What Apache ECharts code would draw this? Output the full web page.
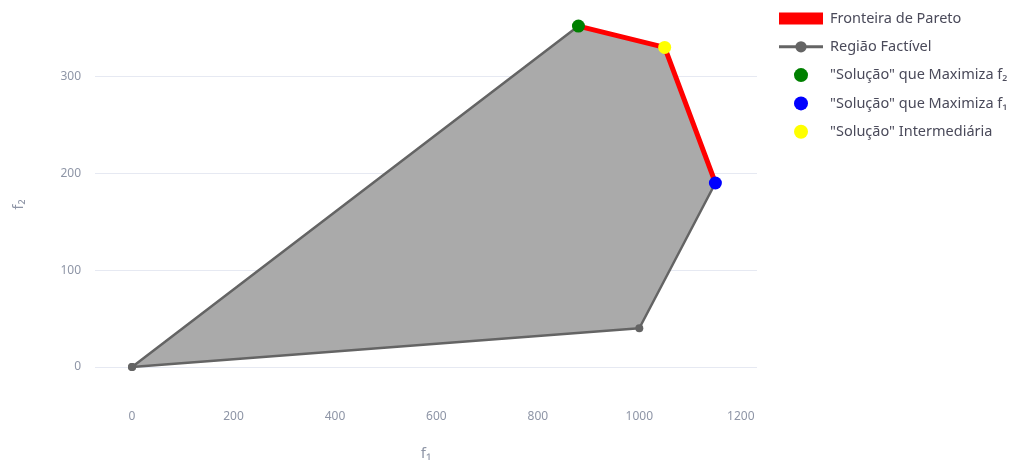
<!DOCTYPE html>
<html><head><meta charset="utf-8">
<script src="https://cdn.jsdelivr.net/npm/echarts@6/dist/echarts.min.js"></script>
<style>html,body{margin:0;padding:0;background:#fff}#c{width:1026px;height:466px}</style>
</head><body><div id="c"></div>
<script>
// Feasible region polygon vertices (closed)
const regionF1 = [0, 1000, 1150, 1050, 880, 0];
const regionF2 = [0, 40, 190, 330, 352, 0];
// Pareto frontier
const frontierF1 = [880, 1050, 1150];
const frontierF2 = [352, 330, 190];
// Highlighted solutions
const maxF2Point = [880, 352];
const maxF1Point = [1150, 190];
const midPoint = [1050, 330];
// Tick labels
const xTicks = [0, 200, 400, 600, 800, 1000, 1200];
const yTicks = [0, 100, 200, 300];
const names = ['Fronteira de Pareto', 'Região Factível', '"Solução" que Maximiza f₂', '"Solução" que Maximiza f₁', '"Solução" Intermediária'];

const regionPts = regionF1.map((x, i) => [x, regionF2[i]]);
const frontierPts = frontierF1.map((x, i) => [x, frontierF2[i]]);

const FONT = 'Noto Sans';
const TICK = '#8e95a6';
const chart = echarts.init(document.getElementById('c'), null, {renderer: 'canvas'});
chart.setOption({
  animation: false,
  backgroundColor: '#ffffff',
  textStyle: {fontFamily: FONT},
  grid: {left: 95, right: 269, top: 10, bottom: 66, containLabel: false},
  xAxis: {
    type: 'value', min: -73, max: 1232,
    name: 'f₁', nameLocation: 'middle', nameGap: 47,
    nameTextStyle: {color: TICK, fontSize: 15, fontFamily: FONT},
    axisLine: {show: false}, axisTick: {show: false, customValues: xTicks},
    splitLine: {show: false},
    axisLabel: {customValues: xTicks, color: TICK, fontSize: 12, margin: 12, fontFamily: FONT,
      formatter: v => String(v)}
  },
  yAxis: {
    type: 'value', min: -33, max: 368.6,
    name: 'f₂', nameLocation: 'middle', nameGap: 69, nameRotate: 90,
    nameTextStyle: {color: TICK, fontSize: 15, fontFamily: FONT},
    axisLine: {show: false}, axisTick: {show: false, customValues: yTicks},
    splitLine: {show: true, lineStyle: {color: '#e6e9f2', width: 1}},
    axisLabel: {customValues: yTicks, color: TICK, fontSize: 12, margin: 14, fontFamily: FONT,
      formatter: v => String(v)}
  },
  legend: {
    orient: 'vertical', left: 768, top: 6,
    itemWidth: 44, itemHeight: 14, itemGap: 13.3,
    textStyle: {color: '#4a4a5a', fontSize: 14.5, fontFamily: FONT, padding: [0, 0, 0, 2]},
    data: [
      {name: names[0], lineStyle: {width: 12}},
      {name: names[1], lineStyle: {width: 3}},
      {name: names[2], icon: 'circle'},
      {name: names[3], icon: 'circle'},
      {name: names[4], icon: 'circle'}
    ]
  },
  series: [
    {
      type: 'custom', silent: true, z: 1,
      data: [[0, 0]],
      renderItem: function (params, api) {
        const pts = regionPts.map(p => api.coord(p));
        return {type: 'polygon', shape: {points: pts}, style: {fill: '#aaaaaa'}};
      }
    },
    {
      name: names[1], type: 'line', z: 2,
      data: regionPts,
      symbol: 'circle', symbolSize: 8, showSymbol: true,
      itemStyle: {color: '#646464'},
      lineStyle: {color: '#646464', width: 2.5}
    },
    {
      name: names[0], type: 'line', z: 3,
      data: frontierPts,
      symbol: 'none',
      itemStyle: {color: '#ff0000'},
      lineStyle: {color: '#ff0000', width: 5}
    },
    {name: names[2], type: 'scatter', z: 4, data: [maxF2Point], symbolSize: 13, itemStyle: {color: '#008000', opacity: 1}},
    {name: names[3], type: 'scatter', z: 4, data: [maxF1Point], symbolSize: 13, itemStyle: {color: '#0000ff', opacity: 1}},
    {name: names[4], type: 'scatter', z: 4, data: [midPoint], symbolSize: 13, itemStyle: {color: '#ffff00', opacity: 1}}
  ]
});
</script></body></html>
